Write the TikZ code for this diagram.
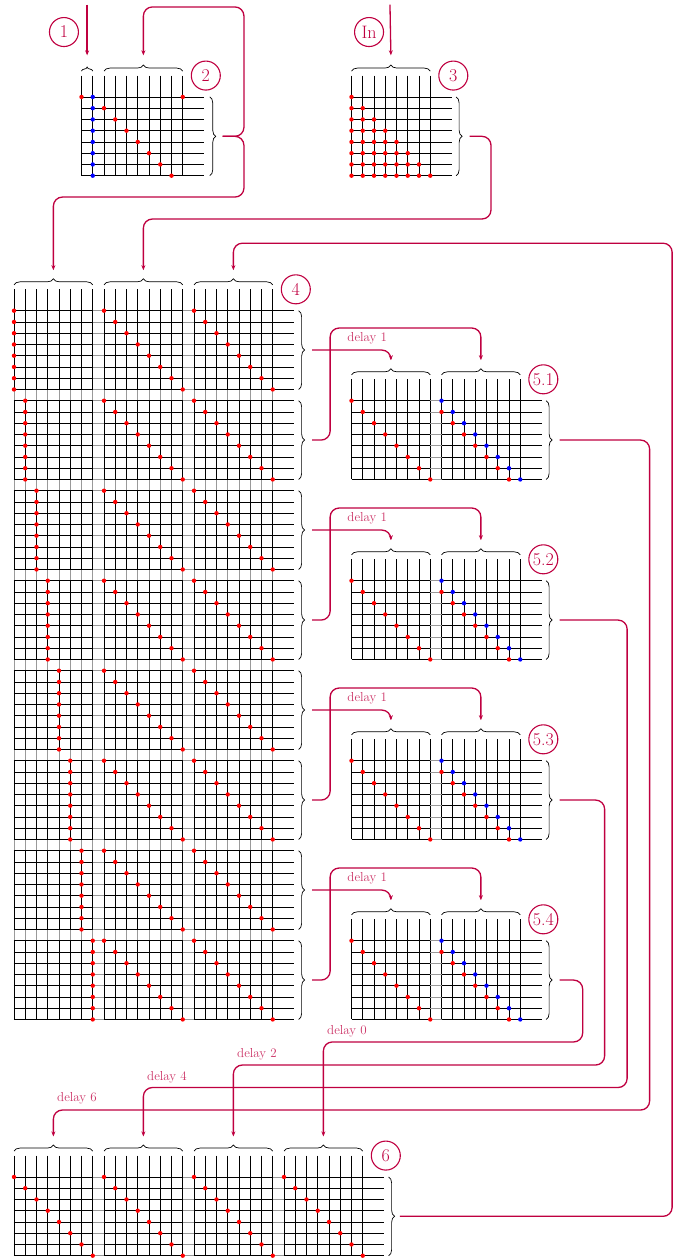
\documentclass[tikz,border=0pt]{standalone}
\usetikzlibrary{decorations.pathreplacing,arrows.meta}
\begin{document}
\begin{tikzpicture}[x=11.25pt,y=-11.25pt,
  gl/.style={line width=0.75pt,black},
  gg/.style={line width=0.75pt,black!40},
  conn/.style={line width=1.3pt,draw=purple,rounded corners=9pt},
  arr/.style={conn,-{Stealth[length=5pt,width=4pt]}},
  brc/.style={decorate,decoration={brace,amplitude=6pt},line width=0.7pt},
  sbrc/.style={decorate,decoration={brace,amplitude=4pt},line width=0.7pt},
  lbl/.style={circle,draw=purple,line width=1.1pt,text=purple,minimum size=29pt,inner sep=1pt,font=\fontsize{18}{20}\selectfont},
  dly/.style={text=purple!80,font=\fontsize{13}{14}\selectfont,inner sep=0pt}]
\useasboundingbox (-1.2444,-27.6178) rectangle (59.556,84.2044);
\def\dr{2.2pt}

% ---------- block 1 and 2 ----------
\foreach \c in {6,...,15} \draw[gl] (\c,-20.9) -- (\c,-12);
\foreach \r in {-19,...,-12} \draw[gl] (6,\r) -- (16.9,\r);
\fill[red] (6,-19) circle (\dr);
\foreach \i in {0,...,7} {
  \fill[blue] (7,{-19+\i}) circle (\dr);
  \pgfmathtruncatemacro\cc{8+mod(\i+7,8)}
  \fill[red] (\cc,{-19+\i}) circle (\dr);
}
\draw[sbrc] (6,-21.3) -- (7,-21.3);
\draw[brc] (8,-21.3) -- (15,-21.3);
\draw[brc] (17.4,-19) -- (17.4,-12);

% ---------- block 3 ----------
\foreach \c in {30,...,37} \draw[gl] (\c,-20.9) -- (\c,-12);
\foreach \r in {-19,...,-12} \draw[gl] (30,\r) -- (38.9,\r);
\foreach \i in {0,...,7} \foreach \j in {0,...,\i} \fill[red] ({30+\j},{-19+\i}) circle (\dr);
\draw[brc] (30,-21.3) -- (37,-21.3);
\draw[brc] (39.3,-19) -- (39.3,-12);

% ---------- block 4 ----------
\foreach \c in {0,...,23} {
  \draw[gg] (\c,0) -- (\c,63);
  \draw[gl] (\c,-1.9) -- (\c,0);
  \foreach \g in {0,...,7} \draw[gl] (\c,{8*\g}) -- (\c,{8*\g+7});
}
\foreach \r in {0,...,63} {
  \draw[gg] (0,\r) -- (23,\r);
  \draw[gl] (0,\r) -- (7,\r) (8,\r) -- (15,\r) (16,\r) -- (24.9,\r);
}
\foreach \g in {0,...,7} {
  \foreach \i in {0,...,7} {
    \fill[red] (\g,{8*\g+\i}) circle (\dr);
    \fill[red] ({8+\i},{8*\g+\i}) circle (\dr);
    \fill[red] ({16+\i},{8*\g+\i}) circle (\dr);
  }
  \draw[brc] (25.3,{8*\g}) -- (25.3,{8*\g+7});
  \coordinate (o4g\g) at (26.5,{8*\g+3.5});
}
\foreach \k in {0,1,2} \draw[brc] ({8*\k},-2.3) -- ({8*\k+7},-2.3);

% ---------- blocks 5.1 - 5.4 ----------
\foreach \j in {1,...,4} {
  \pgfmathtruncatemacro\ro{16*\j-8}
  \pgfmathtruncatemacro\rb{16*\j-1}
  \foreach \c in {30,...,45} \draw[gl] (\c,{\ro-1.9}) -- (\c,\rb);
  \foreach \r in {\ro,...,\rb} {
    \draw[gg] (37,\r) -- (38,\r);
    \draw[gl] (30,\r) -- (37,\r) (38,\r) -- (46.9,\r);
  }
  \foreach \i in {0,...,7} {
    \fill[red] ({30+\i},{\ro+\i}) circle (\dr);
    \fill[blue] ({38+\i},{\ro+\i}) circle (\dr);
  }
  \foreach \i in {1,...,7} \fill[red] ({37+\i},{\ro+\i}) circle (\dr);
  \draw[brc] (30,{\ro-2.3}) -- (37,{\ro-2.3});
  \draw[brc] (38,{\ro-2.3}) -- (45,{\ro-2.3});
  \draw[brc] (47.3,\ro) -- (47.3,\rb);
  \node[lbl] (L5\j) at (47.05,{\ro-1.9}) {5.\j};
  \coordinate (i5a\j) at (33.5,{\ro-3.6});
  \coordinate (i5b\j) at (41.5,{\ro-3.6});
  \coordinate (o5\j) at (48.5,{\ro+3.5});
}

% ---------- block 6 ----------
\foreach \c in {0,...,31} \draw[gl] (\c,75.1) -- (\c,84);
\foreach \r in {77,...,84} {
  \draw[gg] (0,\r) -- (31,\r);
  \draw[gl] (0,\r) -- (7,\r) (8,\r) -- (15,\r) (16,\r) -- (23,\r) (24,\r) -- (32.9,\r);
}
\foreach \k in {0,...,3} {
  \foreach \i in {0,...,7} \fill[red] ({8*\k+\i},{77+\i}) circle (\dr);
  \draw[brc] ({8*\k},74.7) -- ({8*\k+7},74.7);
  \coordinate (i6\k) at ({8*\k+3.5},73.4);
}
\draw[brc] (33.3,77) -- (33.3,84);

% ---------- labels ----------
\node[lbl] (L1) at (4.44,-24.77) {1};
\node[lbl] (LIn) at (31.56,-24.77) {In};
\node[lbl] (L2) at (17.05,-20.9) {2};
\node[lbl] (L3) at (39.05,-20.9) {3};
\node[lbl] (L4) at (25.05,-1.9) {4};
\node[lbl] (L6) at (33.05,75.1) {6};

% ---------- named coordinates ----------
\coordinate (s1) at (6.5,-27.2);
\coordinate (i1) at (6.5,-22.7);
\coordinate (sIn) at (33.42,-27.2);
\coordinate (i3) at (33.5,-22.7);
\coordinate (i2) at (11.5,-22.7);
\coordinate (o2) at (18.55,-15.5);
\coordinate (o3) at (40.5,-15.5);
\coordinate (i4a) at (3.5,-3.6);
\coordinate (i4b) at (11.5,-3.6);
\coordinate (i4c) at (19.5,-3.6);
\coordinate (o6) at (34.3,80.5);

% ---------- connectors ----------
\draw[arr] (s1) -- (i1);
\draw[arr] (sIn) -- (i3);
\draw[arr] (o2) -| (20.44,-27) -| (i2);
\draw[arr] (o2) -| (20.44,-10.1) -| (i4a);
\draw[arr] (o3) -| (42.4,-8.15) -| (i4b);
\draw[arr] (o6) -| (58.5,-6.0) -| (i4c);

\draw[arr] (o4g0) -| (i5a1);
\draw[arr] (o4g1) -| (28.1,1.54) -| (i5b1);
\draw[arr] (o4g2) -| (i5a2);
\draw[arr] (o4g3) -| (28.1,17.54) -| (i5b2);
\draw[arr] (o4g4) -| (i5a3);
\draw[arr] (o4g5) -| (28.1,33.54) -| (i5b3);
\draw[arr] (o4g6) -| (i5a4);
\draw[arr] (o4g7) -| (28.1,49.54) -| (i5b4);
\node[dly] (d11) at (31.4,2.45) {delay 1};
\node[dly] (d12) at (31.4,18.45) {delay 1};
\node[dly] (d13) at (31.4,34.45) {delay 1};
\node[dly] (d14) at (31.4,50.45) {delay 1};

\draw[arr] (o51) -| (56.5,71.05) -| (i60);
\draw[arr] (o52) -| (54.5,69.05) -| (i61);
\draw[arr] (o53) -| (52.5,67.05) -| (i62);
\draw[arr] (o54) -| (50.55,65.0) -| (i63);
\node[dly] (d6) at (5.6,70.05) {delay 6};
\node[dly] (d4) at (13.6,68.1) {delay 4};
\node[dly] (d2) at (21.6,66.1) {delay 2};
\node[dly] (d0) at (29.6,64.05) {delay 0};
\end{tikzpicture}
\end{document}
